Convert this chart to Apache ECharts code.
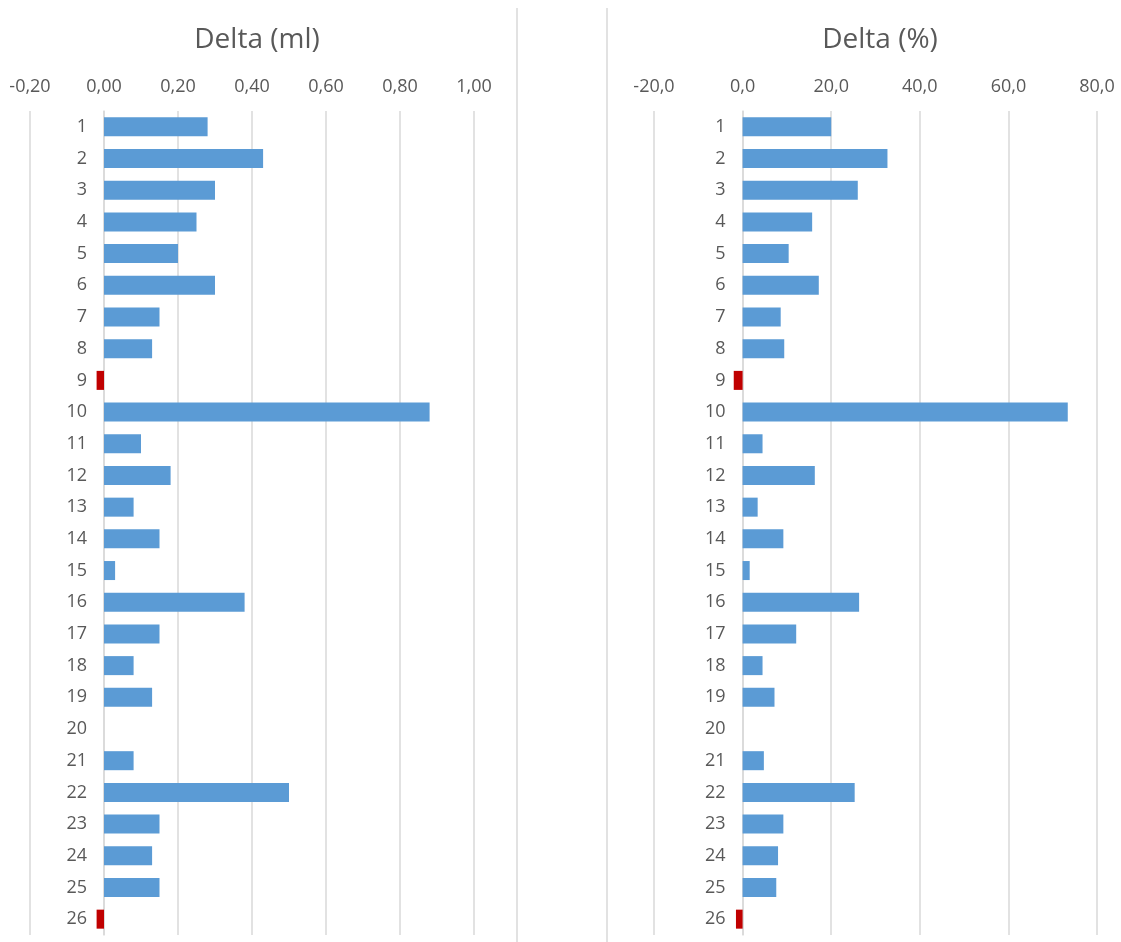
<!DOCTYPE html>
<html>
<head>
<meta charset="utf-8">
<title>Delta</title>
<script src="https://cdn.jsdelivr.net/npm/echarts@6/dist/echarts.min.js"></script>
<style>
  html, body { margin: 0; padding: 0; background: #ffffff; }
  #chart { width: 1121px; height: 942px; }
</style>
</head>
<body>
<div id="chart"></div>
<script>
// Sample numbers 1..26, top to bottom
const categories = ['1','2','3','4','5','6','7','8','9','10','11','12','13','14','15','16','17','18','19','20','21','22','23','24','25','26'];

// Absolute change (ml)
const deltaMl = [0.28, 0.43, 0.30, 0.25, 0.20, 0.30, 0.15, 0.13, -0.02, 0.88,
                 0.10, 0.18, 0.08, 0.15, 0.03, 0.38, 0.15, 0.08, 0.13, 0.00,
                 0.08, 0.50, 0.15, 0.13, 0.15, -0.02];

// Relative change (%)
const deltaPct = [20.0, 32.7, 26.0, 15.7, 10.4, 17.2, 8.6, 9.4, -2.0, 73.4,
                  4.5, 16.3, 3.4, 9.2, 1.6, 26.3, 12.1, 4.5, 7.2, 0.0,
                  4.8, 25.3, 9.2, 8.0, 7.6, -1.5];

// Value-axis ranges and tick steps
const mlAxis = { min: -0.2, max: 1.0, interval: 0.2, decimals: 2 };
const pctAxis = { min: -20, max: 80, interval: 20, decimals: 1 };

const titles = ['Delta (ml)', 'Delta (%)'];

const BLUE = '#5B9BD5';
const RED = '#C00000';
const TEXT = '#595959';
const GRID = '#d9d9d9';
const FONT = '"Open Sans", "Noto Sans", sans-serif';

// Panel geometry
const grids = [
  { left: 30, width: 444, top: 111, bottom: 7 },
  { left: 654, width: 443, top: 111, bottom: 7 }
];

const commaFmt = (d) => (v) => v.toFixed(d).replace('.', ',');

function valueAxis(idx, ax) {
  return {
    type: 'value',
    gridIndex: idx,
    position: 'top',
    min: ax.min,
    max: ax.max,
    interval: ax.interval,
    axisLine: { show: false },
    axisTick: { show: false },
    splitLine: { show: true, lineStyle: { color: GRID, width: 1.5 } },
    axisLabel: {
      color: TEXT, fontSize: 18, fontFamily: FONT, margin: 15,
      formatter: commaFmt(ax.decimals)
    }
  };
}

// Category axis sits on the value axis' zero, so shift it inward by zero's distance from the grid edge
function categoryAxis(idx, ax) {
  const zeroOffset = (0 - ax.min) / (ax.max - ax.min) * grids[idx].width;
  return {
    type: 'category',
    gridIndex: idx,
    data: categories,
    inverse: true,
    position: 'left',
    offset: -zeroOffset,
    axisLine: { show: true, onZero: false, lineStyle: { color: GRID, width: 1.5 } },
    axisTick: { show: false },
    splitLine: { show: false },
    axisLabel: { color: TEXT, fontSize: 18, fontFamily: FONT, margin: 17 }
  };
}

function barSeries(idx, values) {
  return {
    type: 'bar',
    xAxisIndex: idx,
    yAxisIndex: idx,
    data: values,
    barCategoryGap: '40%',
    itemStyle: {
      color: (p) => (p.value < 0 ? RED : BLUE)
    },
    silent: true
  };
}

const chart = echarts.init(document.getElementById('chart'), null, { renderer: 'canvas' });

chart.setOption({
  backgroundColor: '#ffffff',
  animation: false,
  title: [
    { text: titles[0], left: 252, top: 21, textAlign: 'center',
      textStyle: { color: TEXT, fontSize: 28, fontWeight: 'normal', fontFamily: FONT } },
    { text: titles[1], left: 875, top: 21, textAlign: 'center',
      textStyle: { color: TEXT, fontSize: 28, fontWeight: 'normal', fontFamily: FONT } }
  ],
  grid: grids.map((g) => ({
    left: g.left, width: g.width, top: g.top, bottom: g.bottom,
    containLabel: false, outerBoundsMode: 'none'
  })),
  xAxis: [valueAxis(0, mlAxis), valueAxis(1, pctAxis)],
  yAxis: [categoryAxis(0, mlAxis), categoryAxis(1, pctAxis)],
  series: [barSeries(0, deltaMl), barSeries(1, deltaPct)],
  graphic: [
    // borders between the two chart panels
    { type: 'line', shape: { x1: 517, y1: 8, x2: 517, y2: 942 }, style: { stroke: GRID, lineWidth: 1.5 }, silent: true },
    { type: 'line', shape: { x1: 607, y1: 8, x2: 607, y2: 942 }, style: { stroke: GRID, lineWidth: 1.5 }, silent: true }
  ]
});
</script>
</body>
</html>
